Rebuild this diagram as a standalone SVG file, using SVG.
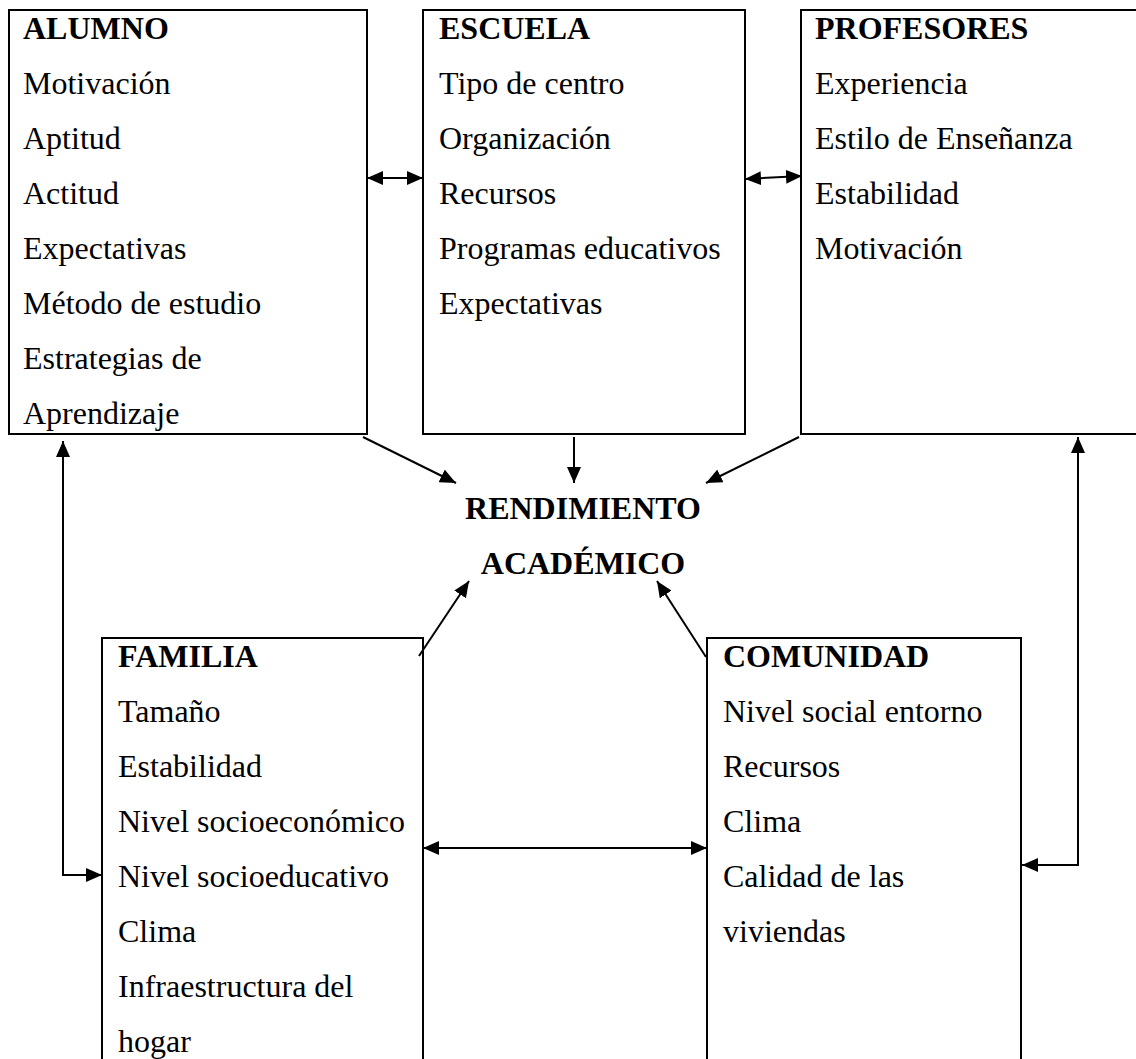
<svg xmlns="http://www.w3.org/2000/svg" width="1136" height="1059" viewBox="0 0 1136 1059">
<style>
.box{fill:none;stroke:#000;stroke-width:2}
.t{font-family:"Liberation Serif","Times New Roman",serif;font-size:32px;fill:#000}
.h{font-weight:bold}
.c{fill:none;stroke:#000;stroke-width:2}
</style>
<defs>
<marker id="ah" viewBox="0 0 16 14" refX="16" refY="7" markerWidth="16" markerHeight="14" markerUnits="userSpaceOnUse" orient="auto-start-reverse">
<path d="M0,0 L16,7 L0,14 z" fill="#000"/>
</marker>
</defs>
<rect width="1136" height="1059" fill="#fff"/>
<g id="alumno">
<rect class="box" x="9" y="10" width="358" height="424"/>
<text class="t h" x="23" y="39">ALUMNO</text>
<text class="t" x="23" y="94">Motivación</text>
<text class="t" x="23" y="149">Aptitud</text>
<text class="t" x="23" y="204">Actitud</text>
<text class="t" x="23" y="259">Expectativas</text>
<text class="t" x="23" y="314">Método de estudio</text>
<text class="t" x="23" y="369">Estrategias de</text>
<text class="t" x="23" y="424">Aprendizaje</text>
</g>
<g id="escuela">
<rect class="box" x="423" y="10" width="322" height="424"/>
<text class="t h" x="439" y="39">ESCUELA</text>
<text class="t" x="439" y="94">Tipo de centro</text>
<text class="t" x="439" y="149">Organización</text>
<text class="t" x="439" y="204">Recursos</text>
<text class="t" x="439" y="259">Programas educativos</text>
<text class="t" x="439" y="314">Expectativas</text>
</g>
<g id="profesores">
<rect class="box" x="801" y="10" width="345" height="424"/>
<text class="t h" x="815" y="39">PROFESORES</text>
<text class="t" x="815" y="94">Experiencia</text>
<text class="t" x="815" y="149">Estilo de Enseñanza</text>
<text class="t" x="815" y="204">Estabilidad</text>
<text class="t" x="815" y="259">Motivación</text>
</g>
<g id="rendimiento">
<text class="t h" x="583" y="519" text-anchor="middle">RENDIMIENTO</text>
<text class="t h" x="583" y="574" text-anchor="middle">ACADÉMICO</text>
</g>
<g id="familia">
<rect class="box" x="102" y="638" width="321" height="440"/>
<text class="t h" x="118" y="667">FAMILIA</text>
<text class="t" x="118" y="722">Tamaño</text>
<text class="t" x="118" y="777">Estabilidad</text>
<text class="t" x="118" y="832">Nivel socioeconómico</text>
<text class="t" x="118" y="887">Nivel socioeducativo</text>
<text class="t" x="118" y="942">Clima</text>
<text class="t" x="118" y="997">Infraestructura del</text>
<text class="t" x="118" y="1052">hogar</text>
</g>
<g id="comunidad">
<rect class="box" x="707" y="638" width="314" height="440"/>
<text class="t h" x="723" y="667">COMUNIDAD</text>
<text class="t" x="723" y="722">Nivel social entorno</text>
<text class="t" x="723" y="777">Recursos</text>
<text class="t" x="723" y="832">Clima</text>
<text class="t" x="723" y="887">Calidad de las</text>
<text class="t" x="723" y="942">viviendas</text>
</g>
<g id="connectors">
<line class="c" x1="367" y1="178" x2="423" y2="178" marker-start="url(#ah)" marker-end="url(#ah)"/>
<line class="c" x1="745" y1="179" x2="802" y2="176" marker-start="url(#ah)" marker-end="url(#ah)"/>
<line class="c" x1="363" y1="437" x2="456" y2="483" marker-end="url(#ah)"/>
<line class="c" x1="574" y1="437" x2="574" y2="483" marker-end="url(#ah)"/>
<line class="c" x1="799" y1="437" x2="706" y2="483" marker-end="url(#ah)"/>
<line class="c" x1="419" y1="656" x2="469" y2="581" marker-end="url(#ah)"/>
<line class="c" x1="706" y1="657" x2="657" y2="581" marker-end="url(#ah)"/>
<line class="c" x1="423" y1="848" x2="707" y2="848" marker-start="url(#ah)" marker-end="url(#ah)"/>
<polyline class="c" points="102,875 63,875 63,441" marker-start="url(#ah)" marker-end="url(#ah)"/>
<polyline class="c" points="1022,865 1078,865 1078,437" marker-start="url(#ah)" marker-end="url(#ah)"/>
</g>
</svg>
